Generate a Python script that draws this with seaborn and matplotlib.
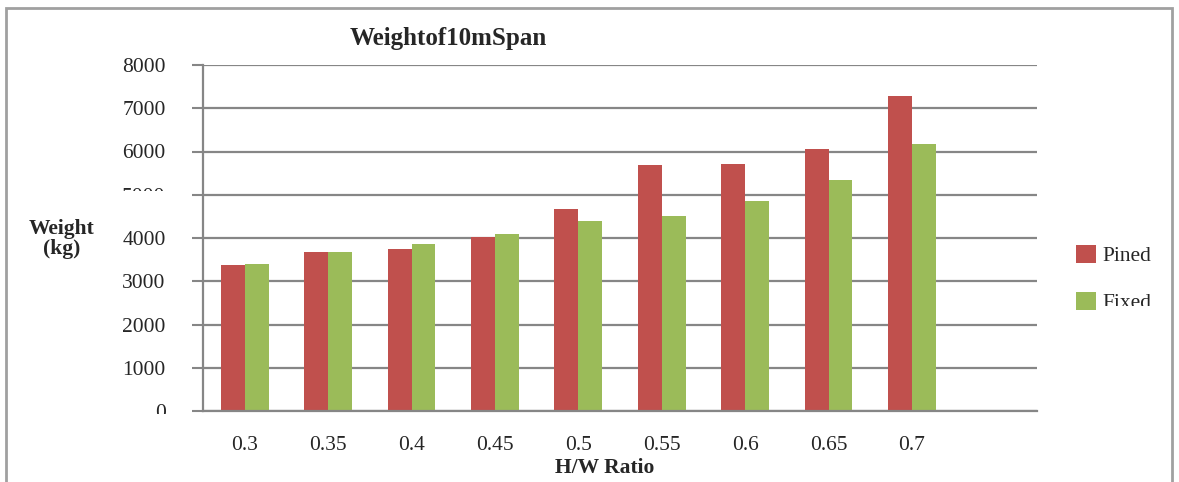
import pandas as pd
import matplotlib.pyplot as plt
import matplotlib.patches as mpatches
import seaborn as sns

# data
ratios = ["0.3", "0.35", "0.4", "0.45", "0.5", "0.55", "0.6", "0.65", "0.7"]
pined = [3365, 3665, 3735, 4015, 4665, 5685, 5710, 6055, 7285]
fixed = [3390, 3680, 3865, 4085, 4400, 4510, 4850, 5335, 6170]
series = ["Pined", "Fixed"]
y_ticks = [0, 1000, 2000, 3000, 4000, 5000, 6000, 7000, 8000]

df = pd.DataFrame({
    "ratio": ratios * 2,
    "weight": pined + fixed,
    "support": ["Pined"] * len(ratios) + ["Fixed"] * len(ratios),
})

sns.set_style("white")
plt.rcParams["font.family"] = ["Liberation Serif", "DejaVu Serif"]

grid_col = "#868686"
palette = {"Pined": "#C0504D", "Fixed": "#9BBB59"}
W, H = 1179, 482

fig = plt.figure(figsize=(11.79, 4.82), dpi=100)
ax = fig.add_axes([203 / W, 1 - 411 / H, 834 / W, 346 / H])

sns.barplot(data=df, x="ratio", y="weight", hue="support", order=ratios,
            hue_order=series, palette=palette, width=0.575, gap=0,
            saturation=1, linewidth=0, ax=ax)

# extra empty slot at the right, like the original
ax.set_xlim(-0.5, len(ratios) + 0.5)
ax.set_ylim(0, 8000)
ax.set_yticks(y_ticks)
ax.set_yticklabels([str(v) for v in y_ticks], fontsize=15.5)
ax.set_xticks(range(len(ratios)))
ax.set_xticklabels(ratios, fontsize=15.5)
ax.set_xticks([i - 0.5 for i in range(len(ratios) + 2)], minor=True)
ax.tick_params(axis="x", which="major", length=0, pad=18)
ax.tick_params(axis="x", which="minor", length=8, width=1.5, color=grid_col)
ax.tick_params(axis="y", length=8, width=1.5, color=grid_col, pad=19, left=True)

ax.yaxis.grid(True, color=grid_col, linewidth=1.6)
ax.set_axisbelow(True)
for s in ["top", "right"]:
    ax.spines[s].set_visible(False)
for s in ["left", "bottom"]:
    ax.spines[s].set_color(grid_col)
    ax.spines[s].set_linewidth(1.6)

ax.set_xlabel("")
ax.set_ylabel("")
fig.text(605 / W, 1 - 468 / H, "H/W Ratio", fontsize=15.5, fontweight="bold",
         ha="center", va="center")
fig.text(62 / W, 1 - 239 / H, "Weight\n(kg)", fontsize=15.5, fontweight="bold",
         ha="center", va="center", linespacing=1.05, zorder=6)
fig.text(448 / W, 1 - 38 / H, "Weightof10mSpan", fontsize=18, fontweight="bold",
         ha="center", va="center")

handles, labels = ax.get_legend_handles_labels()
leg = ax.legend(handles, labels, loc="center left",
                bbox_to_anchor=(1057 / W, 1 - 279 / H),
                bbox_transform=fig.transFigure, frameon=False, fontsize=15.5,
                handlelength=0.9, handleheight=0.9, handletextpad=0.3,
                labelspacing=1.2)

# the original cuts off parts of a few labels (5000, 0, Fixed); white boxes copy that
for x0, y0, x1, y1 in [(108, 191, 176, 212), (140, 414, 185, 432), (1099, 306, 1165, 326)]:
    fig.add_artist(mpatches.Rectangle((x0 / W, 1 - y1 / H), (x1 - x0) / W, (y1 - y0) / H,
                                      transform=fig.transFigure, facecolor="white",
                                      edgecolor="none", zorder=5))

# outer chart border
fig.patches.append(mpatches.Rectangle((6 / W, -0.1), 1166 / W, 1 - 8 / H + 0.1,
                                      transform=fig.transFigure, fill=False,
                                      edgecolor="#A0A0A0", linewidth=2))

fig.savefig("out.png", dpi=100)
